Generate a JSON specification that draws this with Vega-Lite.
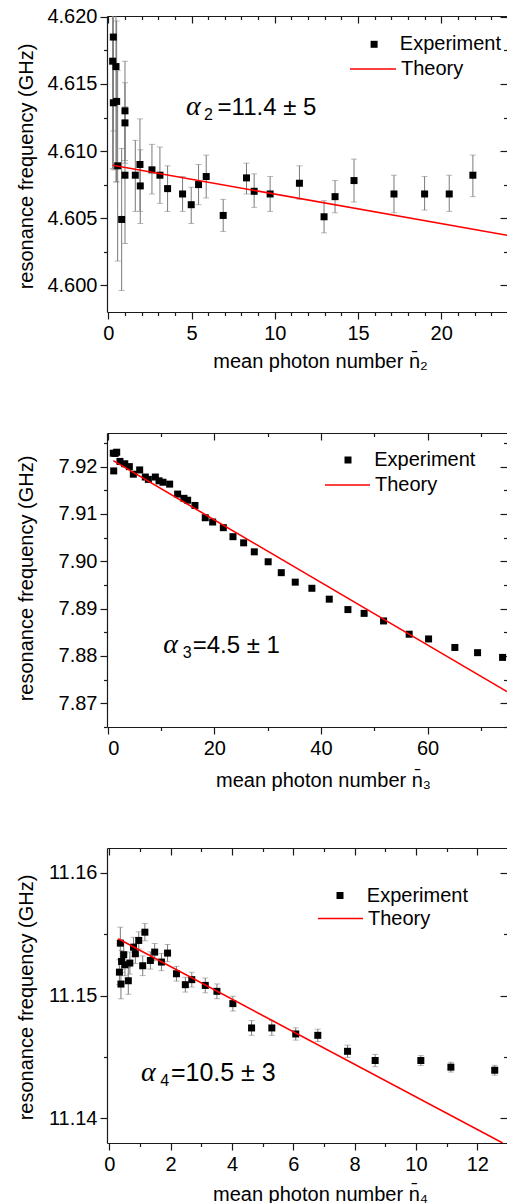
{
  "$schema": "https://vega.github.io/schema/vega-lite/v6.json",
  "usermeta": {"embedOptions": {"actions": false}},
  "padding": {"left": 16, "top": 6, "right": 0, "bottom": 0},
  "bounds": "flush",
  "spacing": 121,
  "resolve": {
    "scale": {"color": "independent", "shape": "independent"},
    "legend": {"color": "independent", "shape": "independent"}
  },
  "config": {
    "font": "Liberation Sans",
    "view": {"stroke": null},
    "axis": {
      "grid": false,
      "domainColor": "#1a1a1a",
      "domainWidth": 1.2,
      "tickColor": "#1a1a1a",
      "tickWidth": 1.2,
      "labelColor": "#000000",
      "labelFont": "Liberation Sans",
      "labelFontSize": 20,
      "titleColor": "#000000",
      "titleFont": "Liberation Sans",
      "titleFontSize": 20,
      "titleFontWeight": "normal"
    },
    "legend": {
      "padding": 0,
      "labelFont": "Liberation Sans",
      "labelFontSize": 20,
      "labelColor": "#000000",
      "title": null
    }
  },
  "datasets": {
    "p1": [
      {"n": 0.30, "f": 4.6185, "lo": 4.6115, "hi": 4.6255, "series": "Experiment"},
      {"n": 0.26, "f": 4.6167, "lo": 4.6087, "hi": 4.6247, "series": "Experiment"},
      {"n": 0.46, "f": 4.6163, "lo": 4.6077, "hi": 4.6249, "series": "Experiment"},
      {"n": 0.30, "f": 4.6136, "lo": 4.6086, "hi": 4.6186, "series": "Experiment"},
      {"n": 0.50, "f": 4.6137, "lo": 4.6077, "hi": 4.6197, "series": "Experiment"},
      {"n": 1.00, "f": 4.6130, "lo": 4.6093, "hi": 4.6167, "series": "Experiment"},
      {"n": 1.00, "f": 4.6121, "lo": 4.6091, "hi": 4.6151, "series": "Experiment"},
      {"n": 0.56, "f": 4.6089, "lo": 4.6018, "hi": 4.6160, "series": "Experiment"},
      {"n": 0.80, "f": 4.6049, "lo": 4.5996, "hi": 4.6102, "series": "Experiment"},
      {"n": 1.00, "f": 4.6082, "lo": 4.6031, "hi": 4.6133, "series": "Experiment"},
      {"n": 1.62, "f": 4.6082, "lo": 4.6055, "hi": 4.6108, "series": "Experiment"},
      {"n": 1.90, "f": 4.6090, "lo": 4.6055, "hi": 4.6124, "series": "Experiment"},
      {"n": 1.92, "f": 4.6074, "lo": 4.6046, "hi": 4.6101, "series": "Experiment"},
      {"n": 2.62, "f": 4.6086, "lo": 4.6068, "hi": 4.6105, "series": "Experiment"},
      {"n": 3.10, "f": 4.6082, "lo": 4.6061, "hi": 4.6103, "series": "Experiment"},
      {"n": 3.56, "f": 4.6072, "lo": 4.6055, "hi": 4.6089, "series": "Experiment"},
      {"n": 4.46, "f": 4.6068, "lo": 4.6055, "hi": 4.6081, "series": "Experiment"},
      {"n": 4.98, "f": 4.6060, "lo": 4.6046, "hi": 4.6073, "series": "Experiment"},
      {"n": 5.42, "f": 4.6075, "lo": 4.6060, "hi": 4.6090, "series": "Experiment"},
      {"n": 5.88, "f": 4.6081, "lo": 4.6065, "hi": 4.6097, "series": "Experiment"},
      {"n": 6.90, "f": 4.6052, "lo": 4.6040, "hi": 4.6064, "series": "Experiment"},
      {"n": 8.30, "f": 4.6080, "lo": 4.6068, "hi": 4.6091, "series": "Experiment"},
      {"n": 8.76, "f": 4.6070, "lo": 4.6058, "hi": 4.6083, "series": "Experiment"},
      {"n": 9.72, "f": 4.6068, "lo": 4.6055, "hi": 4.6081, "series": "Experiment"},
      {"n": 11.48, "f": 4.6076, "lo": 4.6064, "hi": 4.6089, "series": "Experiment"},
      {"n": 12.96, "f": 4.6051, "lo": 4.6039, "hi": 4.6063, "series": "Experiment"},
      {"n": 13.62, "f": 4.6066, "lo": 4.6054, "hi": 4.6078, "series": "Experiment"},
      {"n": 14.76, "f": 4.6078, "lo": 4.6062, "hi": 4.6094, "series": "Experiment"},
      {"n": 17.16, "f": 4.6068, "lo": 4.6054, "hi": 4.6082, "series": "Experiment"},
      {"n": 19.00, "f": 4.6068, "lo": 4.6056, "hi": 4.6081, "series": "Experiment"},
      {"n": 20.48, "f": 4.6068, "lo": 4.6055, "hi": 4.6082, "series": "Experiment"},
      {"n": 21.90, "f": 4.6082, "lo": 4.6066, "hi": 4.6097, "series": "Experiment"}
    ],
    "t1": [
      {"n": 0.26, "f": 4.60894, "series": "Theory"},
      {"n": 23.95, "f": 4.60372, "series": "Theory"}
    ],
    "a1": [{"n": 4.66, "f": 4.61271, "greek": "α", "sub": "2", "rest": "=11.4 ± 5"}],
    "p2": [
      {"n": 1.05, "f": 7.92283, "series": "Experiment"},
      {"n": 1.40, "f": 7.92280, "series": "Experiment"},
      {"n": 1.69, "f": 7.92304, "series": "Experiment"},
      {"n": 1.13, "f": 7.91909, "series": "Experiment"},
      {"n": 2.30, "f": 7.92110, "series": "Experiment"},
      {"n": 3.20, "f": 7.92060, "series": "Experiment"},
      {"n": 4.06, "f": 7.92000, "series": "Experiment"},
      {"n": 4.81, "f": 7.91840, "series": "Experiment"},
      {"n": 6.00, "f": 7.91930, "series": "Experiment"},
      {"n": 7.06, "f": 7.91780, "series": "Experiment"},
      {"n": 7.63, "f": 7.91730, "series": "Experiment"},
      {"n": 8.94, "f": 7.91780, "series": "Experiment"},
      {"n": 9.63, "f": 7.91700, "series": "Experiment"},
      {"n": 10.37, "f": 7.91670, "series": "Experiment"},
      {"n": 11.62, "f": 7.91630, "series": "Experiment"},
      {"n": 13.12, "f": 7.91420, "series": "Experiment"},
      {"n": 14.30, "f": 7.91330, "series": "Experiment"},
      {"n": 15.00, "f": 7.91290, "series": "Experiment"},
      {"n": 16.37, "f": 7.91180, "series": "Experiment"},
      {"n": 18.30, "f": 7.90920, "series": "Experiment"},
      {"n": 19.69, "f": 7.90830, "series": "Experiment"},
      {"n": 21.69, "f": 7.90710, "series": "Experiment"},
      {"n": 23.50, "f": 7.90520, "series": "Experiment"},
      {"n": 25.50, "f": 7.90390, "series": "Experiment"},
      {"n": 27.50, "f": 7.90200, "series": "Experiment"},
      {"n": 30.10, "f": 7.89990, "series": "Experiment"},
      {"n": 32.56, "f": 7.89760, "series": "Experiment"},
      {"n": 35.18, "f": 7.89560, "series": "Experiment"},
      {"n": 38.30, "f": 7.89430, "series": "Experiment"},
      {"n": 41.56, "f": 7.89200, "series": "Experiment"},
      {"n": 45.06, "f": 7.88980, "series": "Experiment"},
      {"n": 48.10, "f": 7.88900, "series": "Experiment"},
      {"n": 51.75, "f": 7.88740, "series": "Experiment"},
      {"n": 56.55, "f": 7.88460, "series": "Experiment"},
      {"n": 60.19, "f": 7.88360, "series": "Experiment"},
      {"n": 65.12, "f": 7.88180, "series": "Experiment"},
      {"n": 69.38, "f": 7.88070, "series": "Experiment"},
      {"n": 74.07, "f": 7.87970, "series": "Experiment"}
    ],
    "t2": [
      {"n": 1.05, "f": 7.92127, "series": "Theory"},
      {"n": 74.9, "f": 7.87246, "series": "Theory"}
    ],
    "a2": [{"n": 10.43, "f": 7.88058, "greek": "α", "sub": "3", "rest": "=4.5 ± 1"}],
    "p3": [
      {"n": 0.36, "f": 11.15426, "lo": 11.15296, "hi": 11.15556, "series": "Experiment"},
      {"n": 0.47, "f": 11.15332, "lo": 11.15232, "hi": 11.15432, "series": "Experiment"},
      {"n": 0.33, "f": 11.15190, "lo": 11.15090, "hi": 11.15290, "series": "Experiment"},
      {"n": 0.38, "f": 11.15093, "lo": 11.14973, "hi": 11.15213, "series": "Experiment"},
      {"n": 0.40, "f": 11.15277, "lo": 11.15187, "hi": 11.15367, "series": "Experiment"},
      {"n": 0.51, "f": 11.15250, "lo": 11.15160, "hi": 11.15340, "series": "Experiment"},
      {"n": 0.62, "f": 11.15120, "lo": 11.15010, "hi": 11.15230, "series": "Experiment"},
      {"n": 0.67, "f": 11.15264, "lo": 11.15174, "hi": 11.15354, "series": "Experiment"},
      {"n": 0.79, "f": 11.15393, "lo": 11.15313, "hi": 11.15473, "series": "Experiment"},
      {"n": 0.85, "f": 11.15340, "lo": 11.15260, "hi": 11.15420, "series": "Experiment"},
      {"n": 0.96, "f": 11.15448, "lo": 11.15378, "hi": 11.15518, "series": "Experiment"},
      {"n": 1.09, "f": 11.15242, "lo": 11.15162, "hi": 11.15322, "series": "Experiment"},
      {"n": 1.16, "f": 11.15515, "lo": 11.15445, "hi": 11.15585, "series": "Experiment"},
      {"n": 1.34, "f": 11.15285, "lo": 11.15215, "hi": 11.15355, "series": "Experiment"},
      {"n": 1.48, "f": 11.15353, "lo": 11.15283, "hi": 11.15423, "series": "Experiment"},
      {"n": 1.70, "f": 11.15272, "lo": 11.15202, "hi": 11.15342, "series": "Experiment"},
      {"n": 1.90, "f": 11.15345, "lo": 11.15275, "hi": 11.15415, "series": "Experiment"},
      {"n": 2.19, "f": 11.15177, "lo": 11.15117, "hi": 11.15237, "series": "Experiment"},
      {"n": 2.48, "f": 11.15088, "lo": 11.15028, "hi": 11.15148, "series": "Experiment"},
      {"n": 2.69, "f": 11.15129, "lo": 11.15069, "hi": 11.15189, "series": "Experiment"},
      {"n": 3.13, "f": 11.15082, "lo": 11.15022, "hi": 11.15142, "series": "Experiment"},
      {"n": 3.51, "f": 11.15034, "lo": 11.14974, "hi": 11.15094, "series": "Experiment"},
      {"n": 4.03, "f": 11.14934, "lo": 11.14874, "hi": 11.14994, "series": "Experiment"},
      {"n": 4.64, "f": 11.14736, "lo": 11.14676, "hi": 11.14796, "series": "Experiment"},
      {"n": 5.30, "f": 11.14736, "lo": 11.14676, "hi": 11.14796, "series": "Experiment"},
      {"n": 6.08, "f": 11.14687, "lo": 11.14637, "hi": 11.14737, "series": "Experiment"},
      {"n": 6.80, "f": 11.14676, "lo": 11.14626, "hi": 11.14726, "series": "Experiment"},
      {"n": 7.77, "f": 11.14546, "lo": 11.14496, "hi": 11.14596, "series": "Experiment"},
      {"n": 8.67, "f": 11.14471, "lo": 11.14421, "hi": 11.14521, "series": "Experiment"},
      {"n": 10.16, "f": 11.14471, "lo": 11.14431, "hi": 11.14511, "series": "Experiment"},
      {"n": 11.14, "f": 11.14417, "lo": 11.14377, "hi": 11.14457, "series": "Experiment"},
      {"n": 12.57, "f": 11.14392, "lo": 11.14352, "hi": 11.14432, "series": "Experiment"}
    ],
    "t3": [
      {"n": 0.29, "f": 11.15462, "series": "Theory"},
      {"n": 12.83, "f": 11.13800, "series": "Theory"}
    ],
    "a3": [{"n": 1.03, "f": 11.14303, "greek": "α", "sub": "4", "rest": "=10.5 ± 3"}]
  },
  "vconcat": [
    {
      "width": 400,
      "height": 296,
      "resolve": {"axis": {"x": "independent", "y": "independent"}},
      "layer": [
        {
          "data": {"name": "p1"},
          "mark": {"type": "errorbar", "clip": true, "ticks": {"color": "#9a9a9a", "size": 6}, "rule": {"color": "#7a7a7a", "strokeWidth": 1}},
          "encoding": {
            "x": {"field": "n", "type": "quantitative", "scale": {"domain": [-0.08, 23.95], "nice": false}, "axis": null},
            "y": {"field": "lo", "type": "quantitative", "scale": {"domain": [4.598, 4.62007], "nice": false, "zero": false}, "axis": null},
            "y2": {"field": "hi"}
          }
        },
        {
          "data": {"name": "p1"},
          "mark": {"type": "point", "filled": true, "size": 49, "color": "#000000", "opacity": 1, "clip": true},
          "encoding": {
            "x": {"field": "n", "type": "quantitative", "scale": {"domain": [-0.08, 23.95], "nice": false},
              "axis": {"orient": "bottom", "values": [0, 5, 10, 15, 20], "tickSize": 7, "labelPadding": 4, "domain": true,
                "title": "mean photon number n̄₂", "titleX": 213, "titleY": 55.7, "titleAlign": "center", "titleBaseline": "alphabetic"}},
            "y": {"field": "f", "type": "quantitative", "scale": {"domain": [4.598, 4.62007], "nice": false, "zero": false},
              "axis": {"orient": "left", "values": [4.600, 4.605, 4.610, 4.615, 4.620], "format": ".3f", "tickSize": 7, "labelPadding": 3, "domain": true,
                "title": "resonance frequency (GHz)", "titleX": -75, "titleY": 150, "titleAngle": -90, "titleAlign": "center", "titleBaseline": "alphabetic"}},
            "shape": {"field": "series", "type": "nominal", "scale": {"domain": ["Experiment"], "range": ["square"]},
              "legend": {"orient": "none", "legendX": 257.1, "legendY": 18.3, "symbolSize": 49, "symbolFillColor": "#000000", "symbolStrokeWidth": 0, "labelOffset": 15.7}}
          }
        },
        {
          "data": {"name": "t1"},
          "mark": {"type": "line", "color": "#ff0000", "strokeWidth": 1.6, "clip": true},
          "encoding": {
            "x": {"field": "n", "type": "quantitative", "scale": {"domain": [-0.08, 23.95], "nice": false},
              "axis": {"orient": "bottom", "values": [1, 2, 3, 4, 6, 7, 8, 9, 11, 12, 13, 14, 16, 17, 18, 19, 21, 22, 23], "tickSize": 3.5, "labels": false, "domain": false, "title": null}},
            "y": {"field": "f", "type": "quantitative", "scale": {"domain": [4.598, 4.62007], "nice": false, "zero": false},
              "axis": {"orient": "left", "values": [4.6025, 4.6075, 4.6125, 4.6175], "tickSize": 3.5, "labels": false, "domain": false, "title": null}},
            "color": {"field": "series", "type": "nominal", "scale": {"domain": ["Theory"], "range": ["#ff0000"]},
              "legend": {"orient": "none", "legendX": 242, "legendY": 29, "symbolType": "stroke", "symbolSize": 2116, "symbolStrokeWidth": 1.6, "labelOffset": 4}}
          }
        },
        {
          "data": {"name": "a1"},
          "mark": {"type": "text", "font": "Liberation Serif", "fontStyle": "italic", "fontSize": 28, "align": "left", "baseline": "alphabetic", "color": "#000000"},
          "encoding": {
            "x": {"field": "n", "type": "quantitative", "scale": {"domain": [-0.08, 23.95], "nice": false},
              "axis": {"orient": "top", "values": [0, 5, 10, 15, 20], "tickSize": -7, "labels": false, "domain": true, "title": null}},
            "y": {"field": "f", "type": "quantitative", "scale": {"domain": [4.598, 4.62007], "nice": false, "zero": false},
              "axis": {"orient": "right", "values": [4.600, 4.605, 4.610, 4.615, 4.620], "tickSize": -7, "labels": false, "domain": false, "title": null}},
            "text": {"field": "greek"}
          }
        },
        {
          "data": {"name": "a1"},
          "mark": {"type": "text", "fontSize": 16, "align": "left", "baseline": "alphabetic", "dx": 18, "dy": 5, "color": "#000000"},
          "encoding": {
            "x": {"field": "n", "type": "quantitative", "scale": {"domain": [-0.08, 23.95], "nice": false},
              "axis": {"orient": "top", "values": [1, 2, 3, 4, 6, 7, 8, 9, 11, 12, 13, 14, 16, 17, 18, 19, 21, 22, 23], "tickSize": -3.5, "labels": false, "domain": false, "title": null}},
            "y": {"field": "f", "type": "quantitative", "scale": {"domain": [4.598, 4.62007], "nice": false, "zero": false},
              "axis": {"orient": "right", "values": [4.6025, 4.6075, 4.6125, 4.6175], "tickSize": -3.5, "labels": false, "domain": false, "title": null}},
            "text": {"field": "sub"}
          }
        },
        {
          "data": {"name": "a1"},
          "mark": {"type": "text", "fontSize": 24, "align": "left", "baseline": "alphabetic", "dx": 31.7, "color": "#000000"},
          "encoding": {
            "x": {"field": "n", "type": "quantitative", "scale": {"domain": [-0.08, 23.95], "nice": false}, "axis": null},
            "y": {"field": "f", "type": "quantitative", "scale": {"domain": [4.598, 4.62007], "nice": false, "zero": false}, "axis": null},
            "text": {"field": "rest"}
          }
        }
      ]
    },
    {
      "width": 400,
      "height": 294,
      "resolve": {"axis": {"x": "independent", "y": "independent"}},
      "layer": [
        {
          "data": {"name": "p2"},
          "mark": {"type": "point", "filled": true, "size": 49, "color": "#000000", "opacity": 1, "clip": true},
          "encoding": {
            "x": {"field": "n", "type": "quantitative", "scale": {"domain": [-0.13, 74.9], "nice": false},
              "axis": {"orient": "bottom", "values": [0, 20, 40, 60], "tickSize": 7, "labelPadding": 4, "domain": true,
                "title": "mean photon number n̄₃", "titleX": 216, "titleY": 59, "titleAlign": "center", "titleBaseline": "alphabetic"}},
            "y": {"field": "f", "type": "quantitative", "scale": {"domain": [7.865, 7.9271], "nice": false, "zero": false},
              "axis": {"orient": "left", "values": [7.87, 7.88, 7.89, 7.90, 7.91, 7.92], "format": ".2f", "tickSize": 7, "labelPadding": 3, "domain": true,
                "title": "resonance frequency (GHz)", "titleX": -75, "titleY": 145, "titleAngle": -90, "titleAlign": "center", "titleBaseline": "alphabetic"}},
            "shape": {"field": "series", "type": "nominal", "scale": {"domain": ["Experiment"], "range": ["square"]},
              "legend": {"orient": "none", "legendX": 231, "legendY": 17, "symbolSize": 49, "symbolFillColor": "#000000", "symbolStrokeWidth": 0, "labelOffset": 16.2}}
          }
        },
        {
          "data": {"name": "t2"},
          "mark": {"type": "line", "color": "#ff0000", "strokeWidth": 1.6, "clip": true},
          "encoding": {
            "x": {"field": "n", "type": "quantitative", "scale": {"domain": [-0.13, 74.9], "nice": false},
              "axis": {"orient": "bottom", "values": [10, 30, 50, 70], "tickSize": 3.5, "labels": false, "domain": false, "title": null}},
            "y": {"field": "f", "type": "quantitative", "scale": {"domain": [7.865, 7.9271], "nice": false, "zero": false},
              "axis": {"orient": "left", "values": [7.865, 7.875, 7.885, 7.895, 7.905, 7.915, 7.925], "tickSize": 3.5, "labels": false, "domain": false, "title": null}},
            "color": {"field": "series", "type": "nominal", "scale": {"domain": ["Theory"], "range": ["#ff0000"]},
              "legend": {"orient": "none", "legendX": 217, "legendY": 28.5, "symbolType": "stroke", "symbolSize": 2025, "symbolStrokeWidth": 1.6, "labelOffset": 4}}
          }
        },
        {
          "data": {"name": "a2"},
          "mark": {"type": "text", "font": "Liberation Serif", "fontStyle": "italic", "fontSize": 28, "align": "left", "baseline": "alphabetic", "color": "#000000"},
          "encoding": {
            "x": {"field": "n", "type": "quantitative", "scale": {"domain": [-0.13, 74.9], "nice": false},
              "axis": {"orient": "top", "values": [0, 20, 40, 60], "tickSize": -7, "labels": false, "domain": true, "title": null}},
            "y": {"field": "f", "type": "quantitative", "scale": {"domain": [7.865, 7.9271], "nice": false, "zero": false},
              "axis": {"orient": "right", "values": [7.87, 7.88, 7.89, 7.90, 7.91, 7.92], "tickSize": -7, "labels": false, "domain": false, "title": null}},
            "text": {"field": "greek"}
          }
        },
        {
          "data": {"name": "a2"},
          "mark": {"type": "text", "fontSize": 16, "align": "left", "baseline": "alphabetic", "dx": 19.4, "dy": 5, "color": "#000000"},
          "encoding": {
            "x": {"field": "n", "type": "quantitative", "scale": {"domain": [-0.13, 74.9], "nice": false},
              "axis": {"orient": "top", "values": [10, 30, 50, 70], "tickSize": -3.5, "labels": false, "domain": false, "title": null}},
            "y": {"field": "f", "type": "quantitative", "scale": {"domain": [7.865, 7.9271], "nice": false, "zero": false},
              "axis": {"orient": "right", "values": [7.865, 7.875, 7.885, 7.895, 7.905, 7.915, 7.925], "tickSize": -3.5, "labels": false, "domain": false, "title": null}},
            "text": {"field": "sub"}
          }
        },
        {
          "data": {"name": "a2"},
          "mark": {"type": "text", "fontSize": 24, "align": "left", "baseline": "alphabetic", "dx": 29.4, "color": "#000000"},
          "encoding": {
            "x": {"field": "n", "type": "quantitative", "scale": {"domain": [-0.13, 74.9], "nice": false}, "axis": null},
            "y": {"field": "f", "type": "quantitative", "scale": {"domain": [7.865, 7.9271], "nice": false, "zero": false}, "axis": null},
            "text": {"field": "rest"}
          }
        }
      ]
    },
    {
      "width": 400,
      "height": 295,
      "resolve": {"axis": {"x": "independent", "y": "independent"}},
      "layer": [
        {
          "data": {"name": "p3"},
          "mark": {"type": "errorbar", "clip": true, "ticks": {"color": "#9a9a9a", "size": 6}, "rule": {"color": "#7a7a7a", "strokeWidth": 1}},
          "encoding": {
            "x": {"field": "n", "type": "quantitative", "scale": {"domain": [-0.075, 12.97], "nice": false}, "axis": null},
            "y": {"field": "lo", "type": "quantitative", "scale": {"domain": [11.138, 11.162], "nice": false, "zero": false}, "axis": null},
            "y2": {"field": "hi"}
          }
        },
        {
          "data": {"name": "p3"},
          "mark": {"type": "point", "filled": true, "size": 49, "color": "#000000", "opacity": 1, "clip": true},
          "encoding": {
            "x": {"field": "n", "type": "quantitative", "scale": {"domain": [-0.075, 12.97], "nice": false},
              "axis": {"orient": "bottom", "values": [0, 2, 4, 6, 8, 10, 12], "tickSize": 7, "labelPadding": 4, "domain": true,
                "title": "mean photon number n̄₄", "titleX": 213, "titleY": 57, "titleAlign": "center", "titleBaseline": "alphabetic"}},
            "y": {"field": "f", "type": "quantitative", "scale": {"domain": [11.138, 11.162], "nice": false, "zero": false},
              "axis": {"orient": "left", "values": [11.14, 11.15, 11.16], "format": ".2f", "tickSize": 7, "labelPadding": 3, "domain": true,
                "title": "resonance frequency (GHz)", "titleX": -75, "titleY": 149, "titleAngle": -90, "titleAlign": "center", "titleBaseline": "alphabetic"}},
            "shape": {"field": "series", "type": "nominal", "scale": {"domain": ["Experiment"], "range": ["square"]},
              "legend": {"orient": "none", "legendX": 223, "legendY": 37.5, "symbolSize": 49, "symbolFillColor": "#000000", "symbolStrokeWidth": 0, "labelOffset": 16.8}}
          }
        },
        {
          "data": {"name": "t3"},
          "mark": {"type": "line", "color": "#ff0000", "strokeWidth": 1.6, "clip": true},
          "encoding": {
            "x": {"field": "n", "type": "quantitative", "scale": {"domain": [-0.075, 12.97], "nice": false},
              "axis": {"orient": "bottom", "values": [1, 3, 5, 7, 9, 11], "tickSize": 3.5, "labels": false, "domain": false, "title": null}},
            "y": {"field": "f", "type": "quantitative", "scale": {"domain": [11.138, 11.162], "nice": false, "zero": false},
              "axis": {"orient": "left", "values": [11.145, 11.155], "tickSize": 3.5, "labels": false, "domain": false, "title": null}},
            "color": {"field": "series", "type": "nominal", "scale": {"domain": ["Theory"], "range": ["#ff0000"]},
              "legend": {"orient": "none", "legendX": 210, "legendY": 47, "symbolType": "stroke", "symbolSize": 2025, "symbolStrokeWidth": 1.6, "labelOffset": 4}}
          }
        },
        {
          "data": {"name": "a3"},
          "mark": {"type": "text", "font": "Liberation Serif", "fontStyle": "italic", "fontSize": 28, "align": "left", "baseline": "alphabetic", "color": "#000000"},
          "encoding": {
            "x": {"field": "n", "type": "quantitative", "scale": {"domain": [-0.075, 12.97], "nice": false},
              "axis": {"orient": "top", "values": [0, 2, 4, 6, 8, 10, 12], "tickSize": -7, "labels": false, "domain": true, "title": null}},
            "y": {"field": "f", "type": "quantitative", "scale": {"domain": [11.138, 11.162], "nice": false, "zero": false},
              "axis": {"orient": "right", "values": [11.14, 11.15, 11.16], "tickSize": -7, "labels": false, "domain": false, "title": null}},
            "text": {"field": "greek"}
          }
        },
        {
          "data": {"name": "a3"},
          "mark": {"type": "text", "fontSize": 16, "align": "left", "baseline": "alphabetic", "dx": 19.3, "dy": 5, "color": "#000000"},
          "encoding": {
            "x": {"field": "n", "type": "quantitative", "scale": {"domain": [-0.075, 12.97], "nice": false},
              "axis": {"orient": "top", "values": [1, 3, 5, 7, 9, 11], "tickSize": -3.5, "labels": false, "domain": false, "title": null}},
            "y": {"field": "f", "type": "quantitative", "scale": {"domain": [11.138, 11.162], "nice": false, "zero": false},
              "axis": {"orient": "right", "values": [11.145, 11.155], "tickSize": -3.5, "labels": false, "domain": false, "title": null}},
            "text": {"field": "sub"}
          }
        },
        {
          "data": {"name": "a3"},
          "mark": {"type": "text", "fontSize": 25, "align": "left", "baseline": "alphabetic", "dx": 30, "color": "#000000"},
          "encoding": {
            "x": {"field": "n", "type": "quantitative", "scale": {"domain": [-0.075, 12.97], "nice": false}, "axis": null},
            "y": {"field": "f", "type": "quantitative", "scale": {"domain": [11.138, 11.162], "nice": false, "zero": false}, "axis": null},
            "text": {"field": "rest"}
          }
        }
      ]
    }
  ]
}
